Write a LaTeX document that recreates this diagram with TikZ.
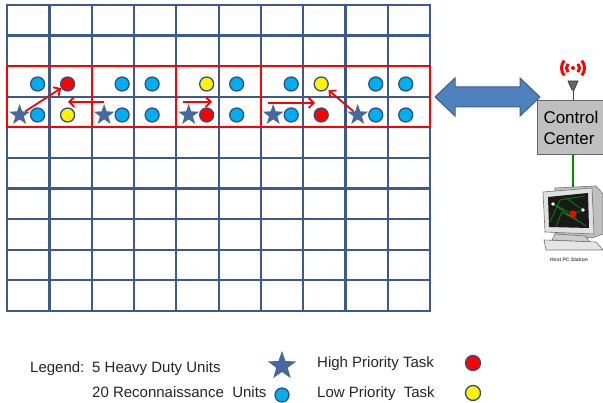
\documentclass[tikz,border=0pt]{standalone}
\usepackage{fontspec}
\setmainfont{Liberation Sans}
\usetikzlibrary{arrows.meta,shapes.geometric,positioning}

\definecolor{gridblue}{RGB}{60,90,138}
\definecolor{unitblue}{RGB}{0,174,239}
\definecolor{unitedge}{RGB}{46,80,130}
\definecolor{starblue}{RGB}{70,104,156}
\definecolor{linkblue}{RGB}{79,129,189}
\definecolor{linkedge}{RGB}{60,96,146}
\definecolor{boxgray}{RGB}{191,191,191}

\begin{document}
\begin{tikzpicture}[x=1pt, y=-1pt,
    gridline/.style={gridblue, line width=2.2pt},
    team/.style={red, line width=1.8pt},
    unit/.style={circle, draw=unitedge, line width=1.3pt, fill=unitblue,
        minimum size=14pt, inner sep=0pt},
    high/.style={unit, fill=red},
    low/.style={unit, fill=yellow},
    heavy/.style={star, star points=5, star point ratio=2.5, fill=starblue,
        minimum size=22pt, inner sep=0pt},
    move/.style={-{Straight Barb[length=5pt, width=10pt]}, red, line width=1.8pt},
    ccbox/.style={draw=black!60, fill=boxgray, line width=1pt, text width=66pt,
        inner xsep=6pt, inner ysep=0pt, minimum height=54pt, align=left,
        font=\fontsize{17}{21}\selectfont},
    legtext/.style={font=\fontsize{15}{18}\selectfont, text=black!85,
        inner sep=0pt, anchor=base west}
]
    \fill[white] (0,0) rectangle (603,403);
    \useasboundingbox (0,0) rectangle (603,403);
    \clip (0,0) rectangle (603,403);

    % 10 x 10 field
    \foreach \i in {0,...,10} {
        \draw[gridline] (7.3+42.27*\i, 5) -- (7.3+42.27*\i, 311);
        \draw[gridline] (7.3, 5+30.6*\i) -- (430, 5+30.6*\i);
    }
    \draw[gridline] (7.3,5) rectangle (430,311);

    % five teams, two columns each
    \foreach \k/\ta/\tb/\ba/\bb in {0/unit/high/unit/low, 1/unit/unit/unit/unit,
            2/low/unit/high/unit, 3/unit/low/unit/high, 4/unit/unit/unit/unit} {
        \draw[team] (7.3+84.53*\k, 66.2) rectangle ++(84.53, 61.2);
        \node[heavy] (hd\k) at (19.6+84.53*\k, 115) {};
        \node[\ta] (t\k-1) at (37.6+84.53*\k, 84) {};
        \node[\tb] (t\k-2) at (67.6+84.53*\k, 84) {};
        \node[\ba] (b\k-1) at (37.6+84.53*\k, 115) {};
        \node[\bb] (b\k-2) at (67.6+84.53*\k, 115) {};
    }

    % task assignments
    \coordinate (m1s) at (104,102);
    \coordinate (m1e) at (68,102);
    \coordinate (m2s) at (183,102);
    \coordinate (m2e) at (212,102);
    \coordinate (m3s) at (268,103);
    \coordinate (m3e) at (315,103);
    \draw[move] (hd0) -- (t0-2);
    \draw[move] (m1s) -- (m1e);
    \draw[move] (m2s) -- (m2e);
    \draw[move] (m3s) -- (m3e);
    \draw[move, shorten >=2pt] (hd4) -- (t3-2);

    % radio link
    \filldraw[fill=linkblue, draw=linkedge, line width=1pt]
        (435,97) -- (455,78) -- (455,87) -- (520,87) -- (520,78) -- (540,97)
        -- (520,116) -- (520,107) -- (455,107) -- (455,116) -- cycle;

    \node[ccbox, anchor=north west] (cc) at (537,100) {Control\\Center};

    % antenna
    \node[circle, fill=red, minimum size=4pt, inner sep=0pt] (tx) at (573,68) {};
    \foreach \r in {6.5,11.5}
        \draw[red, line width=3pt]
            (tx.center) ++(140:\r) arc[start angle=140, end angle=220, radius=\r]
            (tx.center) ++(-40:\r) arc[start angle=-40, end angle=40, radius=\r];
    \draw[black!75, line width=0.9pt] (573,84) -- (cc.north -| tx);
    \filldraw[fill=black!60, draw=black!75, line width=0.8pt, line join=round]
        (568,81) -- (578,81) -- (574,90) -- (572,90) -- cycle;

    % host station
    \coordinate (pc) at (573,190);
    \draw[green!55!black, line width=1.5pt] (cc.south -| pc) -- (pc);
    \filldraw[fill=black!25, draw=black!55, line width=0.6pt]
        (555,188) -- (596,186) -- (603,194) -- (603,234) -- (592,238) -- (555,234) -- cycle;
    \filldraw[fill=black!12, draw=black!55, line width=0.6pt]
        (543,192) -- (592,188) -- (594,234) -- (545,232) -- cycle;
    \fill[black!90] (548,197) -- (588,193) -- (589,228) -- (549,227) -- cycle;
    \draw[green!60!black, line width=0.6pt]
        (553,204) -- (573,214) -- (583,210)
        (550,222) -- (560,200) -- (585,196)
        (553,204) -- (586,226)
        (583,210) -- (566,198)
        (556,226) -- (562,212) -- (580,222);
    \fill[red] (573,214) circle[radius=3.5];
    \fill[white] (553,204) circle[radius=1.8] (583,210) circle[radius=1.8];
    \filldraw[fill=black!20, draw=black!55, line width=0.6pt]
        (555,234) -- (585,236) -- (590,242) -- (552,240) -- cycle;
    \filldraw[fill=black!10, draw=black!55, line width=0.6pt]
        (544,240) -- (596,242) -- (603,250) -- (546,250) -- cycle;
    \node[font=\fontsize{5}{6}\selectfont\bfseries, text=black!70] (pclabel)
        at (569,260) {Host PC Station};

    % legend
    \node[legtext] (lg) at (30,373) {Legend:};
    \node[legtext] (hvy) at (92,373) {5 Heavy Duty Units};
    \node[legtext] (rec) at (92,398) {20 Reconnaissance\ \ Units};
    \node[heavy, minimum size=30pt] (khvy) at (282,366) {};
    \node[unit] (krec) at (282,395) {};
    \node[legtext] (hi) at (317,368) {High Priority Task};
    \node[legtext] (lo) at (317,398) {Low Priority\ \ Task};
    \node[high, minimum size=15pt] (khi) at (473,363) {};
    \node[low, minimum size=15pt] (klo) at (473,393) {};
\end{tikzpicture}
\end{document}
